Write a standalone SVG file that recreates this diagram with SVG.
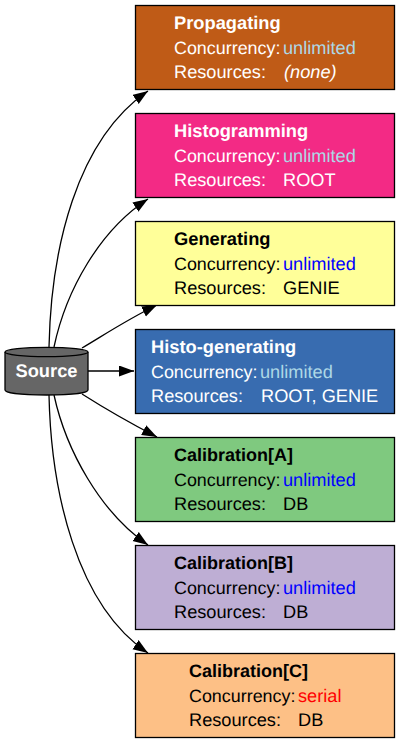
<svg xmlns="http://www.w3.org/2000/svg" width="400" height="743" viewBox="0 0 400 743">
<style>
text{font-family:"Liberation Sans",Arial,sans-serif;font-size:18.2px;text-rendering:geometricPrecision}
.t{font-weight:bold;font-size:18.3px}
.t2{font-weight:bold;font-size:18px}
.c{font-size:17.9px}
.box{stroke:#000;stroke-width:1.3}
.w{fill:#fff}.k{fill:#000}.lb{fill:#add8e6}.b{fill:#00f}.r{fill:#f00}
.e{fill:none;stroke:#000;stroke-width:1.3;marker-end:url(#a)}
</style>
<defs><marker id="a" markerUnits="userSpaceOnUse" markerWidth="16" markerHeight="12" refX="15" refY="5.5" orient="auto"><path d="M0 0L15 5.5L0 11Z" fill="#000"/></marker></defs>
<rect width="400" height="743" fill="#fff"/>
<g id="edges">
<path class="e" d="M49 347C51 250 76 140 148 91"/>
<path class="e" d="M54 347C66 290 100 230 148 199"/>
<path class="e" d="M82 348C104 335 128 319 157 305"/>
<path class="e" d="M88 371L134 371"/>
<path class="e" d="M82 394C104 408 130 423 157 437"/>
<path class="e" d="M54 395C66 450 100 512 148 545"/>
<path class="e" d="M49 395C51 490 76 605 148 653"/>
</g>
<g id="source">
<path d="M5 352V390C5 393 22 395 46.500 395S88 393 88 390V352" fill="#666" stroke="#000" stroke-width="1.300"/>
<ellipse cx="46.500" cy="352" rx="41.500" ry="4.700" fill="#666" stroke="#000" stroke-width="1.300"/>
<text x="46.500" y="377" text-anchor="middle" class="t w">Source</text>
</g>
<g id="propagating">
<rect class="box" x="135.500" y="5.500" width="259" height="84" fill="#bf5b17"/>
<text x="174" y="29" class="t w">Propagating</text>
<text x="174" y="54" class="w c">Concurrency:</text><text x="283" y="54" class="lb">unlimited</text>
<text x="174" y="77.500" class="w">Resources:</text><text x="284" y="77.500" class="w" font-style="italic">(none)</text>
</g>
<g id="histogramming">
<rect class="box" x="135.500" y="113.500" width="259" height="84" fill="#f32a85"/>
<text x="174" y="137" class="t w">Histogramming</text>
<text x="174" y="162" class="w c">Concurrency:</text><text x="283" y="162" class="lb">unlimited</text>
<text x="174" y="185.500" class="w">Resources:</text><text x="283" y="185.500" class="w">ROOT</text>
</g>
<g id="generating">
<rect class="box" x="135.500" y="221.500" width="259" height="84" fill="#ffff99"/>
<text x="174" y="245" class="t k">Generating</text>
<text x="174" y="270" class="k c">Concurrency:</text><text x="283" y="270" class="b">unlimited</text>
<text x="174" y="293.500" class="k">Resources:</text><text x="283" y="293.500" class="k">GENIE</text>
</g>
<g id="histo-generating">
<rect class="box" x="135.500" y="329.500" width="259" height="84" fill="#386cb0"/>
<text x="151" y="353" class="t w">Histo-generating</text>
<text x="151" y="378" class="w c">Concurrency:</text><text x="260" y="378" class="lb">unlimited</text>
<text x="151" y="401.500" class="w">Resources:</text><text x="261" y="401.500" class="w">ROOT, GENIE</text>
</g>
<g id="calibration-a">
<rect class="box" x="135.500" y="437.500" width="259" height="84" fill="#7fc97f"/>
<text x="174" y="461" class="t2 k">Calibration[A]</text>
<text x="174" y="486" class="k c">Concurrency:</text><text x="283" y="486" class="b">unlimited</text>
<text x="174" y="509.500" class="k">Resources:</text><text x="283" y="509.500" class="k">DB</text>
</g>
<g id="calibration-b">
<rect class="box" x="135.500" y="545.500" width="259" height="84" fill="#beaed4"/>
<text x="174" y="569" class="t2 k">Calibration[B]</text>
<text x="174" y="594" class="k c">Concurrency:</text><text x="283" y="594" class="b">unlimited</text>
<text x="174" y="617.500" class="k">Resources:</text><text x="283" y="617.500" class="k">DB</text>
</g>
<g id="calibration-c">
<rect class="box" x="135.500" y="653.500" width="259" height="84" fill="#fdc086"/>
<text x="189" y="677" class="t2 k">Calibration[C]</text>
<text x="189" y="702" class="k c">Concurrency:</text><text x="298" y="702" class="r">serial</text>
<text x="189" y="725.500" class="k">Resources:</text><text x="298" y="725.500" class="k">DB</text>
</g>
</svg>
